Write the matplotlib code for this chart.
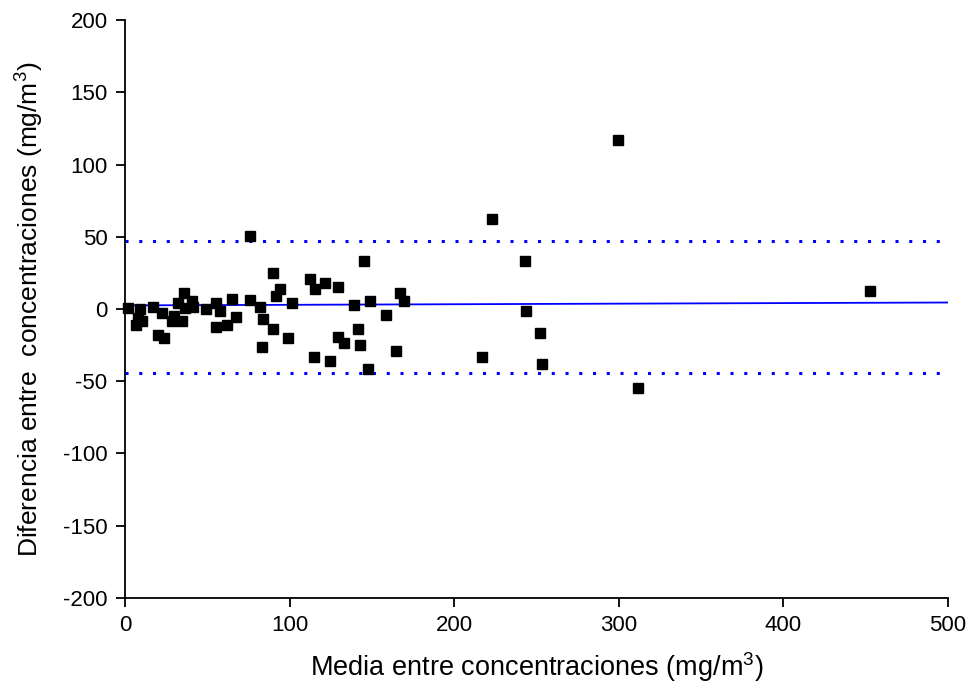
import matplotlib.pyplot as plt

plt.rcParams['font.family'] = ['Liberation Sans', 'DejaVu Sans']
plt.rcParams['mathtext.default'] = 'regular'
plt.rcParams['axes.unicode_minus'] = False

# mean of the two concentrations (x) and their difference (y)
media = [2.0, 9.1, 8.1, 10.1, 6.5, 16.8, 22.3, 19.8, 23.9, 28.8,
         30.0, 34.4, 35.8, 32.4, 40.5, 41.5, 36.5, 49.0, 55.1, 57.7,
         64.8, 67.4, 55.1, 61.8, 75.8, 82.0, 84.0, 83.0, 90.0, 90.0,
         76.0, 94.2, 91.7, 101.3, 99.2, 112.4, 115.4, 121.5, 129.6, 114.8,
         124.5, 129.6, 133.0, 139.1, 141.7, 142.8, 145.4, 148.8, 147.8, 158.6,
         164.6, 167.1, 169.5, 299.7, 223.2, 243.2, 243.8, 252.3, 217.1, 253.5,
         311.9, 452.6]
diferencia = [0.9, -0.2, -6.0, -8.3, -11.3, 1.4, -2.5, -18.0, -19.9, -8.3,
              -4.9, -8.3, 10.9, 4.4, 5.6, 1.4, 0.9, -0.2, 4.4, -1.4,
              7.2, -5.6, -12.5, -11.3, 6.0, 1.4, -7.2, -26.4, 25.2, -14.1,
              50.7, 13.7, 9.0, 4.0, -19.9, 20.6, 13.7, 17.8, 15.3, -33.3,
              -36.1, -19.4, -23.8, 2.8, -14.1, -25.0, 33.3, 5.6, -41.2, -4.2,
              -29.2, 11.3, 5.6, 116.7, 62.3, 33.3, -1.6, -16.9, -33.5, -38.4,
              -54.6, 12.5]

linea_x = [0, 500]
linea_y = [2.5, 4.5]
limite_sup = 47
limite_inf = -44

fig = plt.figure(figsize=(9.68, 6.98), dpi=100)
ax = fig.add_axes([0.1291, 0.1433, 0.8502, 0.8280])

ax.plot(linea_x, linea_y, color='#0000ff', lw=1.3, zorder=2)
ax.axhline(limite_sup, color='#0000ff', lw=2.2, ls=(0, (1, 3.5)), zorder=2)
ax.axhline(limite_inf, color='#0000ff', lw=2.2, ls=(0, (1, 3.5)), zorder=2)
ax.plot(media, diferencia, 's', color='black', ms=7, ls='none', zorder=3,
        clip_on=False)

ax.set_xlim(0, 500)
ax.set_ylim(-200, 200)
ax.set_xticks(range(0, 501, 100))
ax.set_yticks(range(-200, 201, 50))

for s in ['top', 'right']:
    ax.spines[s].set_visible(False)
for s in ['left', 'bottom']:
    ax.spines[s].set_linewidth(1.3)
ax.tick_params(direction='out', length=6.5, width=1.3, labelsize=16, pad=6)

ax.set_xlabel('Media entre concentraciones (mg/m$^3$)', fontsize=19.5, labelpad=10)
ax.set_ylabel('Diferencia entre  concentraciones (mg/m$^3$)', fontsize=19, labelpad=12)

fig.savefig('out.png', dpi=100)
